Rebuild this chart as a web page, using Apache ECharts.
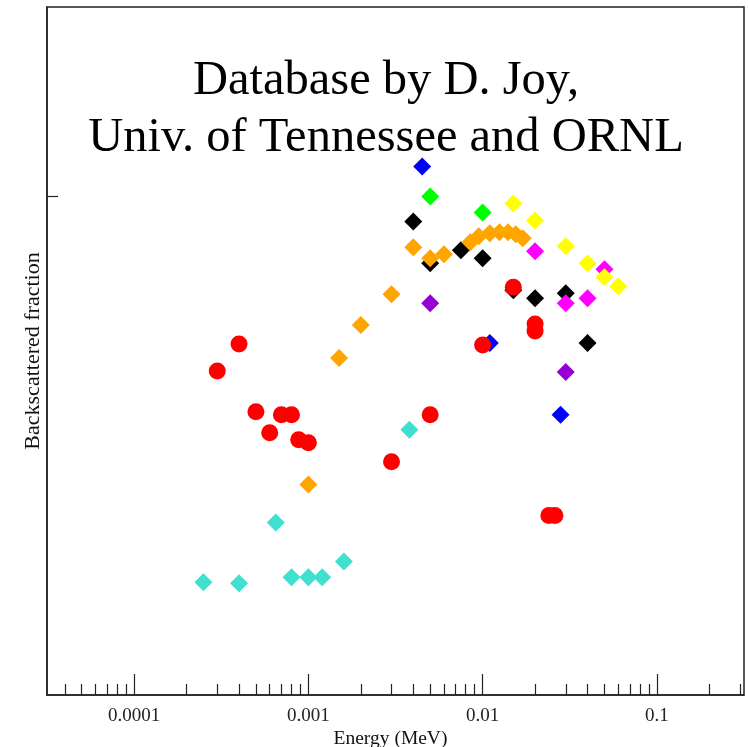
<!DOCTYPE html>
<html>
<head>
<meta charset="utf-8">
<script src="https://cdn.jsdelivr.net/npm/echarts@6/dist/echarts.min.js"></script>
<style>html,body{margin:0;padding:0;background:#fff;}#c{width:748px;height:747px;}</style>
</head>
<body>
<div id="c"></div>
<script>
// Tick positions / labels
const xMajorTicks = [0.0001, 0.001, 0.01, 0.1];
const xMajorLabels = ['0.0001', '0.001', '0.01', '0.1'];
const xMinorTicks = [4e-5, 5e-5, 6e-5, 7e-5, 8e-5, 9e-5,
  2e-4, 3e-4, 4e-4, 5e-4, 6e-4, 7e-4, 8e-4, 9e-4,
  2e-3, 3e-3, 4e-3, 5e-3, 6e-3, 7e-3, 8e-3, 9e-3,
  2e-2, 3e-2, 4e-2, 5e-2, 6e-2, 7e-2, 8e-2, 9e-2,
  0.2, 0.3];
const yTicks = [0.5];

// Data series (energy in MeV, backscattered fraction)
const blueE = [0.0045, 0.011, 0.028];
const blueY = [0.530, 0.353, 0.281];
const blackE = [0.004, 0.005, 0.0075, 0.01, 0.015, 0.02, 0.03, 0.04];
const blackY = [0.475, 0.433, 0.446, 0.438, 0.406, 0.398, 0.403, 0.353];
const greenE = [0.005, 0.01];
const greenY = [0.500, 0.484];
const purpleE = [0.005, 0.03];
const purpleY = [0.393, 0.324];
const magentaE = [0.02, 0.03, 0.04, 0.05];
const magentaY = [0.445, 0.393, 0.398, 0.427];
const yellowE = [0.015, 0.02, 0.03, 0.04, 0.05, 0.06];
const yellowY = [0.493, 0.476, 0.450, 0.433, 0.419, 0.410];
const cyanE = [0.00025, 0.0004, 0.00065, 0.0008, 0.001, 0.0012, 0.0016, 0.0038];
const cyanY = [0.113, 0.112, 0.173, 0.118, 0.118, 0.118, 0.134, 0.266];
const orangeE = [0.001, 0.0015, 0.002, 0.003, 0.004, 0.005, 0.006, 0.0085, 0.0095, 0.011, 0.0125, 0.014, 0.0155, 0.017];
const orangeY = [0.211, 0.338, 0.371, 0.402, 0.449, 0.438, 0.442, 0.454, 0.460, 0.463, 0.464, 0.464, 0.462, 0.458];
const redE = [0.0003, 0.0004, 0.0005, 0.0006, 0.0007, 0.0008, 0.00088, 0.001, 0.003, 0.005, 0.01, 0.015, 0.02, 0.02, 0.024, 0.026];
const redY = [0.325, 0.352, 0.284, 0.263, 0.281, 0.281, 0.256, 0.253, 0.234, 0.281, 0.351, 0.409, 0.372, 0.365, 0.180, 0.180];

const serif = "'Liberation Serif', 'Times New Roman', serif";
const pair = (xs, ys) => xs.map((x, i) => [x, ys[i]]);
function sc(name, xs, ys, color, symbol, size) {
  return {
    type: 'scatter', name: name, data: pair(xs, ys),
    symbol: symbol, symbolSize: size,
    itemStyle: { color: color, opacity: 1 },
    emphasis: { disabled: true }, silent: true
  };
}

const chart = echarts.init(document.getElementById('c'), null, { renderer: 'canvas' });
chart.setOption({
  animation: false,
  backgroundColor: '#fff',
  title: {
    text: 'Database by D. Joy,\nUniv. of Tennessee and ORNL',
    left: 381, top: 48, textAlign: 'center',
    textStyle: { fontFamily: serif, fontSize: 48.5, fontWeight: 'normal', color: '#000', lineHeight: 57 }
  },
  grid: {
    left: 47, right: 4, top: 7, bottom: 52, show: true, borderColor: '#222', borderWidth: 1.5,
    backgroundColor: 'transparent', containLabel: false, outerBoundsMode: 'none'
  },
  xAxis: [{
    type: 'log', logBase: 10, min: Math.pow(10, -4.5), max: Math.pow(10, -0.5),
    name: 'Energy (MeV)', nameLocation: 'middle', nameGap: 34, nameMoveOverlap: false,
    nameTextStyle: { fontFamily: serif, fontSize: 19.5, color: '#111', padding: [0, 10, 0, 0] },
    axisLine: { show: true, lineStyle: { color: '#222', width: 1.5 } },
    axisTick: { show: true, inside: true, length: 21, customValues: xMajorTicks, lineStyle: { color: '#222', width: 1.2 } },
    axisLabel: {
      show: true, customValues: xMajorTicks, margin: 12,
      fontFamily: serif, fontSize: 19, color: '#222',
      formatter: function (v) {
        for (let i = 0; i < xMajorTicks.length; i++) {
          if (Math.abs(Math.log10(v) - Math.log10(xMajorTicks[i])) < 1e-6) return xMajorLabels[i];
        }
        return '';
      }
    },
    splitLine: { show: false }
  }, {
    type: 'log', logBase: 10, min: Math.pow(10, -4.5), max: Math.pow(10, -0.5),
    position: 'bottom',
    axisLine: { show: false },
    axisTick: { show: true, inside: true, length: 11, customValues: xMinorTicks, lineStyle: { color: '#222', width: 1.2 } },
    axisLabel: { show: false },
    splitLine: { show: false }
  }],
  yAxis: {
    type: 'value', min: 0, max: 0.69,
    name: 'Backscattered fraction', nameLocation: 'middle', nameGap: 3, nameMoveOverlap: false,
    nameTextStyle: { fontFamily: serif, fontSize: 22, color: '#111' },
    axisLine: { show: true, lineStyle: { color: '#222', width: 1.5 } },
    axisTick: { show: true, inside: true, length: 11, customValues: yTicks, lineStyle: { color: '#222', width: 1.2 } },
    axisLabel: { show: false },
    splitLine: { show: false }
  },
  series: [
    sc('blue', blueE, blueY, '#0000ff', 'diamond', 18),
    sc('black', blackE, blackY, '#000000', 'diamond', 18),
    sc('green', greenE, greenY, '#00ff00', 'diamond', 18),
    sc('purple', purpleE, purpleY, '#9400d3', 'diamond', 18),
    sc('magenta', magentaE, magentaY, '#ff00ff', 'diamond', 18),
    sc('yellow', yellowE, yellowY, '#ffff00', 'diamond', 18),
    sc('cyan', cyanE, cyanY, '#40e0d0', 'diamond', 18),
    sc('orange', orangeE, orangeY, '#ffa500', 'diamond', 18),
    sc('red', redE, redY, '#ff0000', 'circle', 17)
  ]
});
</script>
</body>
</html>
